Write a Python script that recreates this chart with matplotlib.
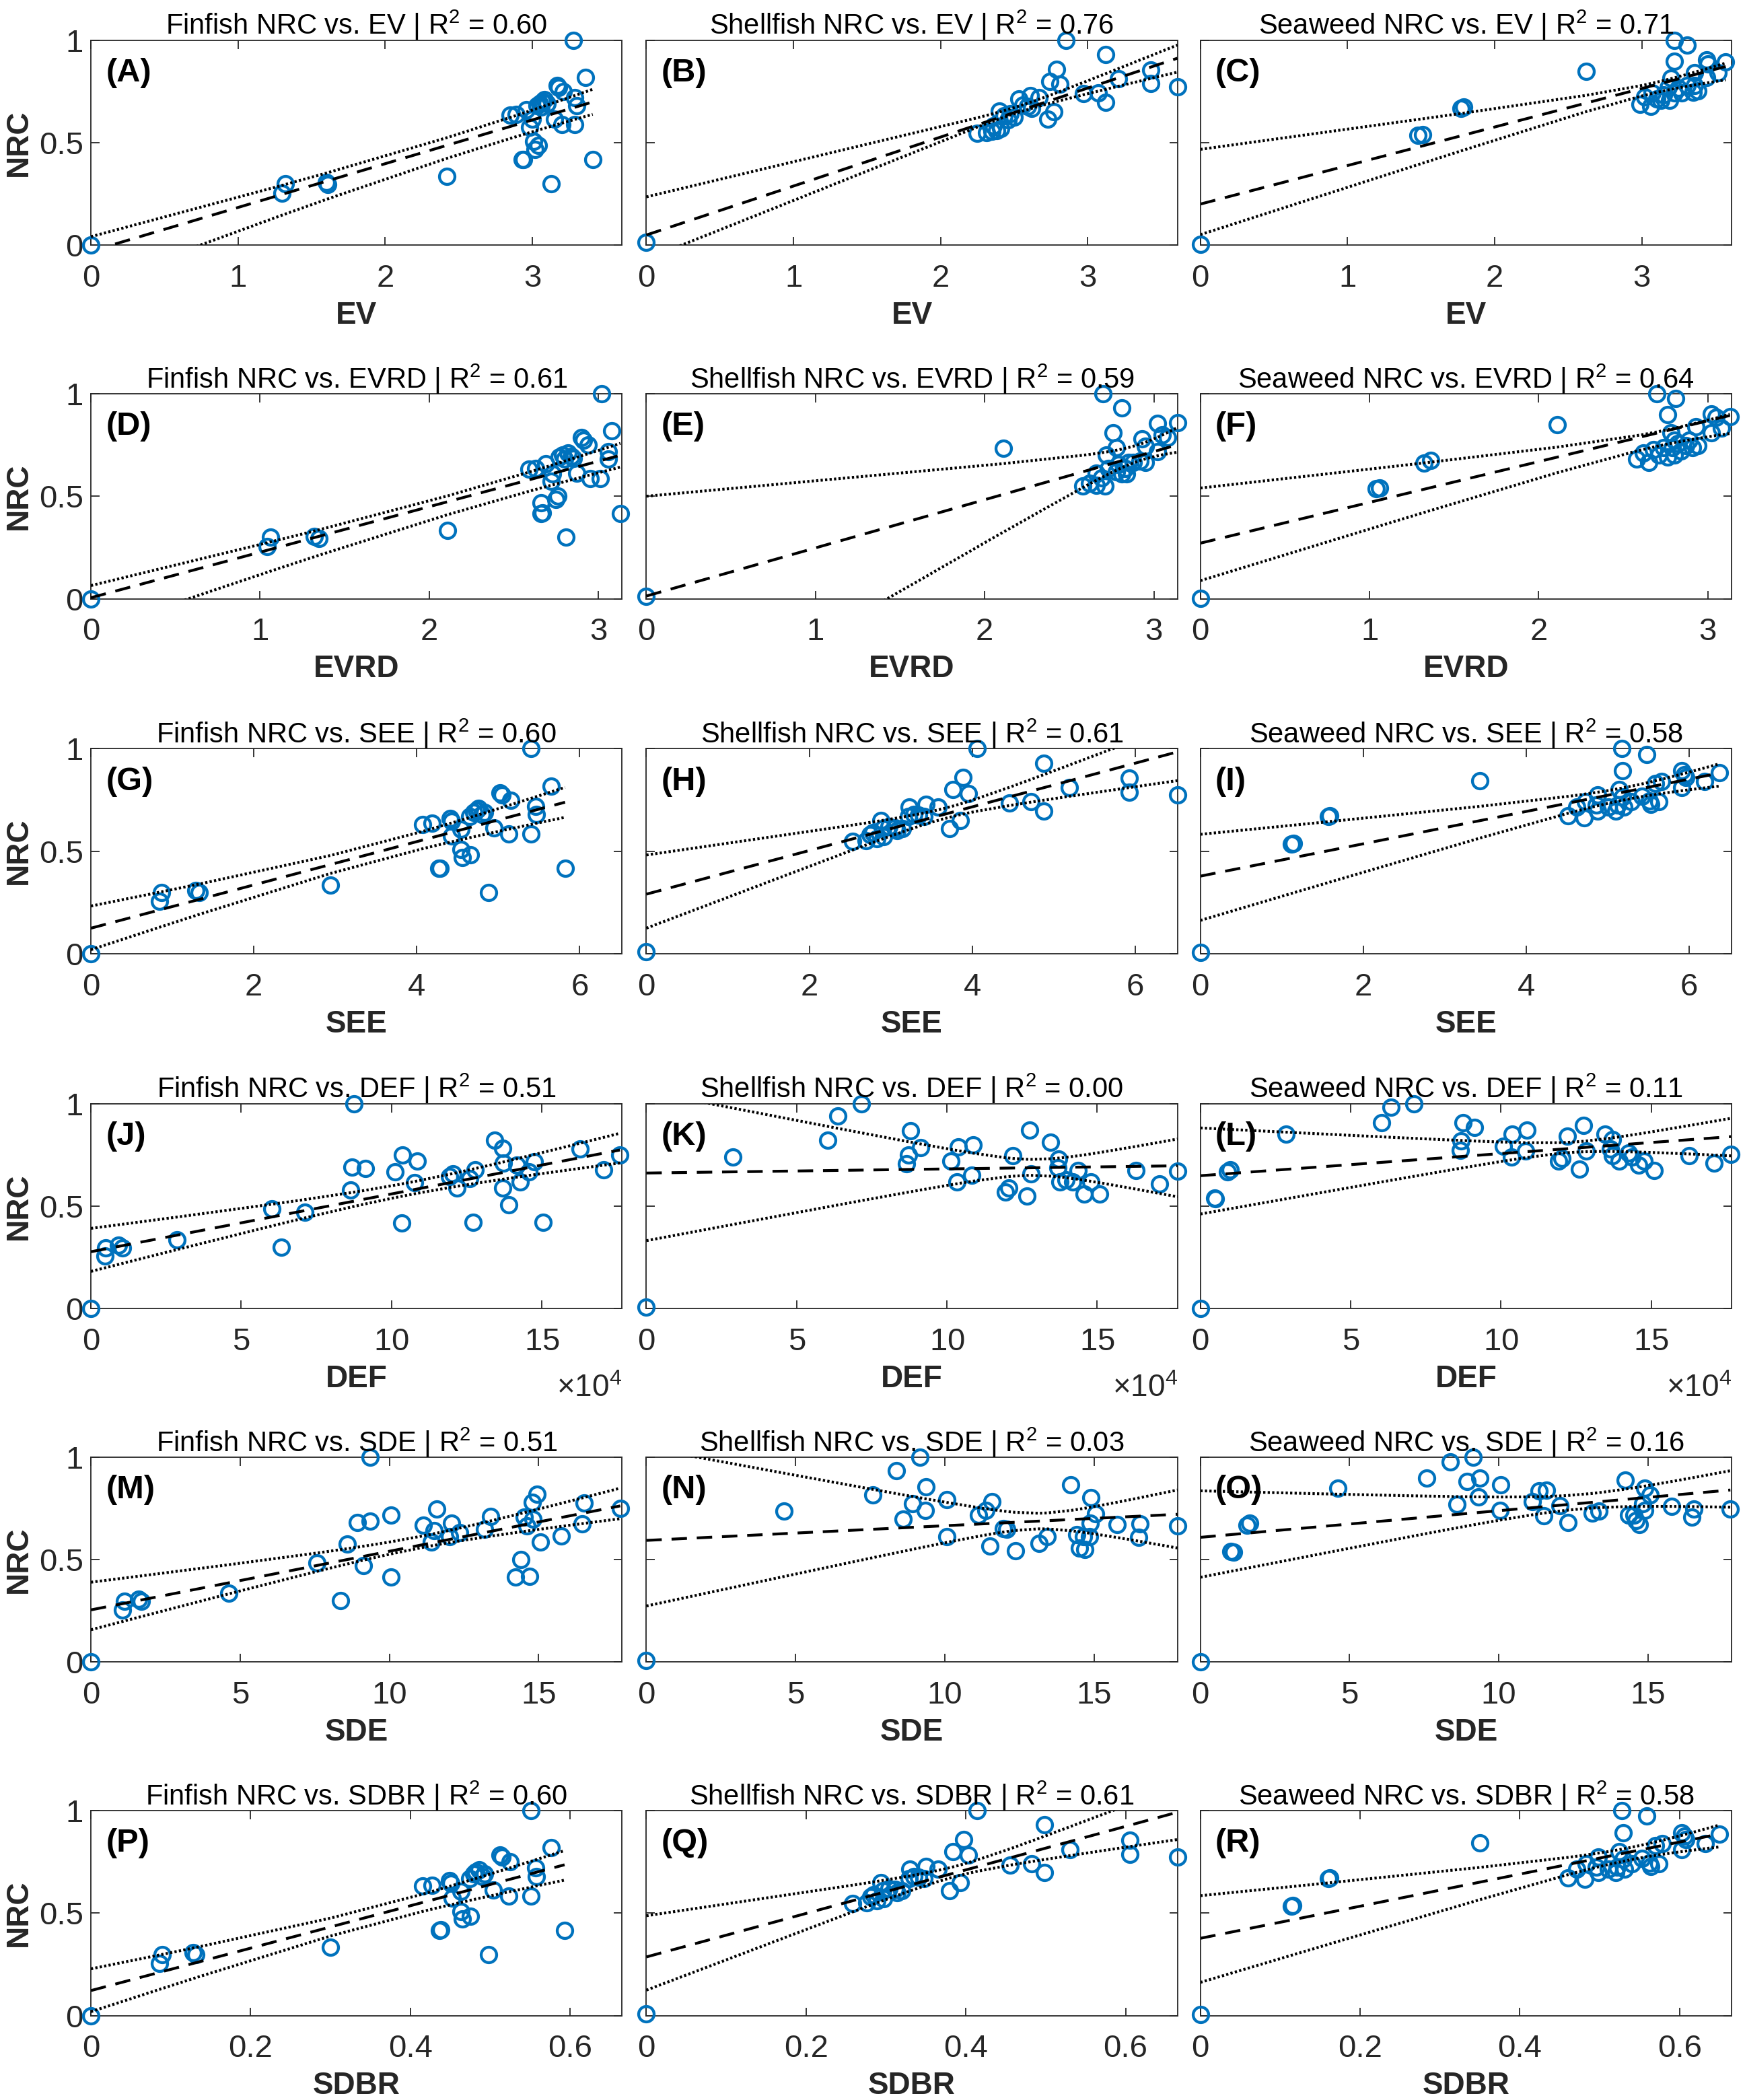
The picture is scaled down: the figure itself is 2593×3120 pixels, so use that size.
import numpy as np
import matplotlib
matplotlib.use('Agg')
import matplotlib.pyplot as plt
from matplotlib.ticker import ScalarFormatter, FuncFormatter

plt.rcParams['font.family'] = ['Liberation Sans', 'DejaVu Sans']
plt.rcParams['mathtext.fontset'] = 'custom'
plt.rcParams['mathtext.rm'] = 'Liberation Sans'
plt.rcParams['mathtext.it'] = 'Liberation Sans:italic'
plt.rcParams['mathtext.bf'] = 'Liberation Sans:bold'

# ---------------- data ----------------
# EV
ev_fin = [0, 1.30, 1.32, 1.60, 1.61, 2.42, 2.93, 2.94, 3.41, 3.13, 3.01, 3.04, 3.02, 2.98, 3.00, 2.85, 2.89,
          2.96, 3.03, 3.05, 3.07, 3.08, 3.10, 3.06, 3.15, 3.20, 3.17, 3.18, 3.21, 3.29, 3.30, 3.29, 3.36, 3.28]
nrc_ev_fin = [0, 0.253, 0.298, 0.307, 0.295, 0.335, 0.416, 0.418, 0.418, 0.30, 0.507, 0.485, 0.467, 0.576, 0.613,
              0.635, 0.636, 0.662, 0.68, 0.69, 0.70, 0.71, 0.69, 0.675, 0.613, 0.589, 0.78, 0.77, 0.75, 0.72, 0.68,
              0.589, 0.818, 1.0]
ev_shell = [0, 2.25, 2.31, 2.35, 2.38, 2.41, 2.36, 2.40, 2.43, 2.46, 2.50, 2.47, 2.53, 2.56, 2.59, 2.61, 2.62,
            2.67, 2.73, 2.77, 2.74, 2.79, 2.81, 2.85, 2.97, 3.07, 3.12, 3.12, 3.21, 3.43, 3.43, 3.61]
nrc_ev_shell = [0.015, 0.545, 0.55, 0.555, 0.56, 0.57, 0.58, 0.653, 0.63, 0.61, 0.625, 0.64, 0.713, 0.685, 0.676,
                0.73, 0.667, 0.72, 0.616, 0.65, 0.798, 0.858, 0.785, 1.0, 0.74, 0.744, 0.698, 0.93, 0.813, 0.855,
                0.79, 0.773]
ev_sea = [0, 1.48, 1.51, 1.77, 1.79, 2.62, 3.22, 3.31, 3.22, 3.44, 3.45, 3.57, 3.52, 3.44, 3.36, 2.99, 3.02,
          3.06, 3.07, 3.10, 3.13, 3.15, 3.18, 3.19, 3.20, 3.22, 3.25, 3.27, 3.31, 3.35, 3.36, 3.38]
nrc_ev_sea = [0.005, 0.537, 0.54, 0.668, 0.674, 0.848, 1.0, 0.976, 0.897, 0.903, 0.885, 0.892, 0.842, 0.818,
              0.842, 0.687, 0.723, 0.678, 0.742, 0.714, 0.705, 0.733, 0.769, 0.705, 0.815, 0.742, 0.764, 0.742,
              0.778, 0.745, 0.778, 0.751]

# EVRD
evrd_fin = [0, 1.04, 1.06, 1.32, 1.35, 2.11, 2.81, 2.66, 2.67, 3.13, 2.66, 2.75, 2.76, 2.72, 2.87, 2.95, 3.01,
            2.59, 2.63, 2.69, 2.73, 2.77, 2.79, 2.80, 2.82, 2.84, 2.85, 2.90, 2.91, 2.94, 3.06, 3.06, 3.08, 3.02]
nrc_evrd_fin = [0, 0.255, 0.30, 0.305, 0.295, 0.333, 0.30, 0.416, 0.418, 0.416, 0.467, 0.485, 0.50, 0.573, 0.613,
                0.585, 0.585, 0.633, 0.636, 0.66, 0.609, 0.69, 0.70, 0.68, 0.71, 0.695, 0.685, 0.787, 0.773, 0.75,
                0.718, 0.682, 0.818, 1.0]
evrd_shell = [0, 2.11, 2.70, 2.81, 2.76, 3.02, 3.14, 3.05, 3.08, 2.93, 2.78, 2.72, 3.02, 2.95, 2.58, 2.62, 2.66,
              2.71, 2.66, 2.69, 2.73, 2.78, 2.79, 2.81, 2.83, 2.84, 2.88, 2.92, 2.95, 2.85]
nrc_evrd_shell = [0.013, 0.733, 1.0, 0.93, 0.81, 0.855, 0.858, 0.80, 0.787, 0.78, 0.736, 0.70, 0.718, 0.745,
                  0.551, 0.564, 0.555, 0.551, 0.613, 0.59, 0.636, 0.618, 0.655, 0.609, 0.636, 0.609, 0.664, 0.673,
                  0.664, 0.664]
evrd_sea = [0, 1.04, 1.06, 1.32, 1.36, 2.11, 2.70, 2.81, 2.76, 3.02, 3.05, 3.13, 3.08, 3.02, 2.93, 2.94, 2.91,
            2.58, 2.62, 2.65, 2.68, 2.71, 2.74, 2.76, 2.78, 2.79, 2.80, 2.82, 2.84, 2.87, 2.89, 2.80]
nrc_evrd_sea = [0.002, 0.537, 0.54, 0.661, 0.674, 0.848, 1.0, 0.976, 0.897, 0.903, 0.885, 0.888, 0.833, 0.811,
                0.839, 0.747, 0.738, 0.68, 0.711, 0.665, 0.729, 0.701, 0.738, 0.692, 0.811, 0.738, 0.701, 0.756,
                0.72, 0.747, 0.775, 0.775]

# SEE
see_fin = [0, 0.84, 0.87, 1.29, 1.33, 2.94, 4.27, 4.29, 5.82, 4.88, 4.54, 4.56, 4.66, 4.07, 4.19, 4.41, 4.43,
           4.43, 4.54, 4.65, 4.70, 4.73, 4.76, 4.80, 4.83, 4.95, 5.02, 5.05, 5.15, 5.13, 5.40, 5.46, 5.47, 5.65, 5.40]
nrc_see_fin = [0, 0.255, 0.298, 0.308, 0.298, 0.333, 0.416, 0.418, 0.416, 0.298, 0.508, 0.47, 0.483, 0.631,
               0.635, 0.66, 0.646, 0.574, 0.606, 0.67, 0.69, 0.70, 0.71, 0.68, 0.69, 0.612, 0.783, 0.774, 0.749,
               0.584, 0.584, 0.72, 0.679, 0.818, 1.0]
see_shell = [0, 2.53, 2.70, 2.75, 2.83, 2.91, 2.78, 2.88, 2.90, 2.98, 3.05, 3.14, 3.08, 3.23, 3.22, 3.28, 3.34,
             3.41, 3.43, 3.58, 3.72, 3.85, 3.76, 3.89, 3.95, 4.06, 4.46, 4.72, 4.88, 4.88, 5.19, 5.93, 5.93, 6.52]
nrc_see_shell = [0.01, 0.548, 0.55, 0.58, 0.56, 0.57, 0.59, 0.649, 0.61, 0.62, 0.615, 0.61, 0.60, 0.716, 0.67,
                 0.68, 0.675, 0.67, 0.729, 0.716, 0.61, 0.649, 0.80, 0.859, 0.782, 1.0, 0.735, 0.74, 0.697, 0.93,
                 0.811, 0.855, 0.786, 0.773]
see_sea = [0, 1.12, 1.14, 1.57, 1.59, 3.43, 5.17, 5.48, 5.18, 5.91, 5.94, 6.37, 6.19, 5.91, 5.96, 5.66, 5.59,
           4.51, 4.62, 4.71, 4.73, 4.86, 4.88, 4.88, 5.01, 5.10, 5.12, 5.14, 5.18, 5.20, 5.29, 5.42, 5.51, 5.53, 5.63]
nrc_see_sea = [0.006, 0.534, 0.537, 0.668, 0.672, 0.844, 1.0, 0.973, 0.893, 0.893, 0.874, 0.884, 0.84, 0.811,
               0.86, 0.84, 0.83, 0.672, 0.716, 0.664, 0.74, 0.725, 0.697, 0.773, 0.716, 0.697, 0.725, 0.80, 0.763,
               0.716, 0.74, 0.767, 0.744, 0.729, 0.74]

# DEF (x 1e4)
def_fin = np.array([0, 0.47, 0.50, 0.92, 1.06, 2.87, 6.34, 6.02, 7.12, 10.33, 12.72, 15.05, 13.9, 8.64, 12.18,
                    13.7, 10.77, 14.29, 11.92, 12.04, 12.6, 14.58, 17.06, 10.12, 12.78, 14.17, 13.72, 14.76, 8.68,
                    9.13, 10.36, 10.86, 17.6, 16.27, 13.42, 13.7, 8.76]) * 1e4
nrc_def_fin = [0, 0.258, 0.296, 0.309, 0.296, 0.334, 0.30, 0.485, 0.471, 0.416, 0.42, 0.42, 0.505, 0.578, 0.588,
               0.588, 0.614, 0.616, 0.645, 0.658, 0.635, 0.668, 0.677, 0.668, 0.677, 0.70, 0.71, 0.715, 0.69,
               0.683, 0.75, 0.72, 0.75, 0.778, 0.82, 0.782, 1.0]
def_shell = np.array([0, 2.87, 6.03, 6.36, 7.15, 8.78, 8.71, 8.65, 9.13, 10.14, 10.38, 10.87, 10.82, 10.34, 12.2,
                      11.94, 12.06, 12.65, 12.74, 12.79, 13.45, 13.71, 13.69, 13.75, 13.95, 14.18, 14.36, 14.78,
                      14.56, 15.07, 16.29, 17.08, 17.67]) * 1e4
nrc_def_shell = [0.006, 0.739, 0.821, 0.94, 1.0, 0.866, 0.749, 0.706, 0.784, 0.72, 0.788, 0.798, 0.652, 0.617,
                 0.745, 0.568, 0.589, 0.549, 0.87, 0.656, 0.811, 0.73, 0.687, 0.617, 0.628, 0.617, 0.675, 0.617,
                 0.558, 0.558, 0.675, 0.609, 0.671]
def_sea = np.array([0, 0.47, 0.50, 0.91, 1.0, 2.86, 6.03, 6.34, 7.11, 8.74, 9.12, 8.68, 8.65, 10.08, 10.36, 10.86,
                    10.34, 10.83, 11.91, 12.03, 12.2, 12.61, 12.75, 12.84, 13.46, 13.71, 13.65, 13.71, 13.94, 14.24,
                    14.35, 14.59, 14.76, 15.09, 16.27, 17.09, 17.65]) * 1e4
nrc_def_sea = [0, 0.539, 0.536, 0.667, 0.677, 0.852, 0.905, 0.982, 1.0, 0.905, 0.885, 0.817, 0.772, 0.792, 0.85,
               0.87, 0.739, 0.768, 0.72, 0.733, 0.842, 0.681, 0.895, 0.768, 0.85, 0.823, 0.778, 0.745, 0.72, 0.759,
               0.739, 0.70, 0.72, 0.675, 0.745, 0.71, 0.753]

# SDE
sde_fin = [0, 1.05, 1.13, 1.6, 1.69, 4.62, 8.37, 7.58, 9.13, 10.06, 14.23, 14.7, 14.4, 8.6, 15.06, 15.75, 11.4,
           12.02, 12.36, 11.13, 11.49, 12.08, 13.18, 13.39, 14.52, 14.61, 14.82, 16.45, 17.74, 8.93, 9.35, 10.06,
           11.58, 16.52, 14.8, 14.94, 9.35]
nrc_sde_fin = [0, 0.255, 0.297, 0.307, 0.297, 0.335, 0.301, 0.483, 0.47, 0.414, 0.414, 0.418, 0.502, 0.576,
               0.585, 0.617, 0.585, 0.613, 0.632, 0.669, 0.641, 0.678, 0.65, 0.712, 0.706, 0.664, 0.697, 0.675,
               0.749, 0.682, 0.688, 0.719, 0.747, 0.777, 0.781, 0.818, 1.0]
sde_shell = [0, 4.62, 7.58, 8.39, 9.17, 8.6, 8.93, 9.37, 9.35, 10.06, 10.08, 11.13, 11.37, 11.58, 11.52, 11.96,
             12.08, 12.36, 13.15, 13.43, 14.23, 14.43, 14.64, 14.86, 14.52, 14.7, 14.88, 15.06, 14.9, 15.77, 16.49,
             16.55, 17.8]
nrc_sde_shell = [0.009, 0.736, 0.817, 0.934, 1.0, 0.698, 0.774, 0.855, 0.74, 0.792, 0.613, 0.717, 0.74, 0.783,
                 0.566, 0.651, 0.647, 0.543, 0.581, 0.613, 0.864, 0.623, 0.613, 0.613, 0.557, 0.551, 0.679, 0.723,
                 0.802, 0.67, 0.608, 0.674, 0.666]
sde_sea = [0, 1.03, 1.12, 1.56, 1.65, 4.61, 7.58, 8.37, 9.13, 8.6, 8.93, 9.37, 9.33, 10.07, 10.05, 11.13, 11.36,
           11.6, 11.51, 12.04, 12.33, 13.12, 13.36, 14.24, 14.36, 14.53, 14.59, 14.71, 14.88, 15.06, 14.82, 14.88,
           15.79, 16.53, 16.47, 17.76]
nrc_sde_sea = [0, 0.54, 0.536, 0.667, 0.677, 0.85, 0.897, 0.977, 1.0, 0.769, 0.882, 0.897, 0.806, 0.865, 0.741,
               0.784, 0.837, 0.84, 0.714, 0.765, 0.68, 0.727, 0.737, 0.887, 0.718, 0.718, 0.69, 0.671, 0.85, 0.816,
               0.774, 0.741, 0.761, 0.746, 0.709, 0.746]

# SDBR (same sites as SEE, same NRC)
sdbr_fin = [0, 0.0855, 0.089, 0.128, 0.131, 0.30, 0.436, 0.438, 0.593, 0.498, 0.463, 0.465, 0.475, 0.415, 0.427,
            0.449, 0.451, 0.452, 0.463, 0.474, 0.479, 0.482, 0.486, 0.490, 0.493, 0.504, 0.512, 0.515, 0.525,
            0.523, 0.551, 0.557, 0.558, 0.576, 0.551]
sdbr_shell = [0, 0.258, 0.276, 0.281, 0.289, 0.297, 0.284, 0.294, 0.296, 0.304, 0.311, 0.320, 0.314, 0.330,
              0.329, 0.335, 0.341, 0.348, 0.350, 0.365, 0.380, 0.393, 0.384, 0.397, 0.403, 0.414, 0.455, 0.482,
              0.498, 0.498, 0.530, 0.605, 0.605, 0.665]
sdbr_sea = [0, 0.114, 0.116, 0.160, 0.162, 0.350, 0.528, 0.559, 0.529, 0.603, 0.606, 0.650, 0.632, 0.603, 0.608,
            0.578, 0.570, 0.460, 0.471, 0.481, 0.483, 0.496, 0.498, 0.498, 0.511, 0.520, 0.522, 0.524, 0.529,
            0.531, 0.540, 0.553, 0.562, 0.564, 0.574]
nrc_sdbr_fin = nrc_see_fin
nrc_sdbr_shell = nrc_see_shell
nrc_sdbr_sea = nrc_see_sea

species = ['Finfish', 'Shellfish', 'Seaweed']
variables = ['EV', 'EVRD', 'SEE', 'DEF', 'SDE', 'SDBR']
letters = list('ABCDEFGHIJKLMNOPQR')
r2 = [0.60, 0.76, 0.71, 0.61, 0.59, 0.64, 0.60, 0.61, 0.58,
      0.51, 0.00, 0.11, 0.51, 0.03, 0.16, 0.60, 0.61, 0.58]

# fitted line (intercept, slope) and 95% band read at x=0 / x=max, plus narrowest half-width
dash_b0 = [-0.030, 0.049, 0.20, 0.005, 0.013, 0.271, 0.124, 0.29, 0.378,
           0.277, 0.661, 0.648, 0.255, 0.594, 0.609, 0.122, 0.286, 0.377]
dash_b1 = [0.2135, 0.239, 0.188, 0.222, 0.235, 0.199, 0.1056, 0.1065, 0.0789,
           2.82e-6, 0.2e-6, 1.08e-6, 0.0286, 0.00716, 0.013, 1.035, 1.062, 0.783]
ci_up0 = [0.041, 0.235, 0.467, 0.064, 0.50, 0.54, 0.232, 0.481, 0.582,
          0.391, 1.06, 0.881, 0.39, 1.046, 0.836, 0.228, 0.487, 0.585]
ci_lo0 = [-0.195, -0.069, 0.051, -0.16, -0.675, 0.088, 0.019, 0.124, 0.162,
          0.181, 0.331, 0.461, 0.158, 0.274, 0.414, 0.019, 0.124, 0.162]
ci_up1 = [0.76, 0.976, 0.888, 0.758, 0.835, 0.90, 0.811, 1.12, 0.926,
          0.855, 0.827, 0.928, 0.849, 0.84, 0.934, 0.805, 1.12, 0.93]
ci_lo1 = [0.638, 0.844, 0.806, 0.642, 0.715, 0.806, 0.665, 0.844, 0.817,
          0.71, 0.545, 0.745, 0.70, 0.557, 0.756, 0.661, 0.859, 0.823]
ci_min = [0.05, 0.015, 0.025, 0.045, 0.04, 0.035, 0.04, 0.025, 0.03,
          0.03, 0.039, 0.025, 0.028, 0.038, 0.035, 0.04, 0.025, 0.03]

x_rows = [[ev_fin, ev_shell, ev_sea], [evrd_fin, evrd_shell, evrd_sea], [see_fin, see_shell, see_sea],
          [def_fin, def_shell, def_sea], [sde_fin, sde_shell, sde_sea], [sdbr_fin, sdbr_shell, sdbr_sea]]
y_rows = [[nrc_ev_fin, nrc_ev_shell, nrc_ev_sea], [nrc_evrd_fin, nrc_evrd_shell, nrc_evrd_sea],
          [nrc_see_fin, nrc_see_shell, nrc_see_sea], [nrc_def_fin, nrc_def_shell, nrc_def_sea],
          [nrc_sde_fin, nrc_sde_shell, nrc_sde_sea], [nrc_sdbr_fin, nrc_sdbr_shell, nrc_sdbr_sea]]
xticks = [[0, 1, 2, 3], [0, 1, 2, 3], [0, 2, 4, 6], [0, 5e4, 10e4, 15e4], [0, 5, 10, 15], [0, 0.2, 0.4, 0.6]]


def ci_band(xs, i, xe):
    # hyperbolic confidence band through the read values, evaluated at the data x's
    c0 = (ci_up0[i] + ci_lo0[i]) / 2
    c1 = ((ci_up1[i] + ci_lo1[i]) / 2 - c0) / xe
    w0 = (ci_up0[i] - ci_lo0[i]) / 2
    w1 = (ci_up1[i] - ci_lo1[i]) / 2
    a = ci_min[i]
    A = np.sqrt(max(w0 ** 2 - a ** 2, 1e-9))
    B = np.sqrt(max(w1 ** 2 - a ** 2, 1e-9))
    xm = xe * A / (A + B)
    k = A / xm
    w = np.sqrt(a ** 2 + (k * (xs - xm)) ** 2)
    c = c0 + c1 * xs
    return c + w, c - w


BLUE = '#0072BD'
GREY = '#262626'
lefts = [0.0521, 0.3704, 0.6879]
bottoms = [0.8833, 0.7149, 0.5459, 0.3769, 0.2085, 0.0402]
W, H = 0.3044, 0.0976

fig = plt.figure(figsize=(25.93, 31.2), dpi=100)

for r in range(6):
    xmax = max(np.max(np.asarray(v, float)) for v in x_rows[r])
    for c in range(3):
        i = r * 3 + c
        x = np.asarray(x_rows[r][c], float)
        y = np.asarray(y_rows[r][c], float)
        ax = fig.add_axes([lefts[c], bottoms[r], W, H])

        ax.plot(x, y, 'o', mfc='none', mec=BLUE, ms=16.5, mew=3.1, clip_on=False, zorder=3)

        xs = np.unique(x)
        ax.plot(xs, dash_b0[i] + dash_b1[i] * xs, color='k', lw=3.0, ls=(0, (5.5, 3.5)), zorder=4)
        up, lo = ci_band(xs, i, xs.max())
        ax.plot(xs, up, color='k', lw=3.0, ls=(0, (0.8, 0.8)), zorder=4)
        ax.plot(xs, lo, color='k', lw=3.0, ls=(0, (0.8, 0.8)), zorder=4)

        ax.set_xlim(0, xmax)
        ax.set_ylim(0, 1)
        ax.set_yticks([0, 0.5, 1])
        ax.set_yticklabels(['0', '0.5', '1'])
        ax.set_xticks(xticks[r])
        if r == 3:
            fmt = ScalarFormatter(useMathText=True)
            fmt.set_powerlimits((4, 4))
            ax.xaxis.set_major_formatter(fmt)
            ax.xaxis.get_offset_text().set_visible(False)
            ax.text(1.0, -0.39, r'$\times10^{4}$', transform=ax.transAxes, ha='right', va='center',
                    fontsize=33, color=GREY)
        else:
            ax.xaxis.set_major_formatter(FuncFormatter(lambda v, p: '%g' % v))

        ax.tick_params(direction='in', top=True, right=True, length=9, width=1.3,
                       labelsize=34, colors=GREY)
        ax.tick_params(axis='x', pad=20)
        ax.tick_params(axis='y', pad=8, labelleft=(c == 0))
        for s in ax.spines.values():
            s.set_color(GREY)
            s.set_linewidth(1.3)

        ax.set_title(f'{species[c]} NRC vs. {variables[r]} | R$^{{2}}$ = {r2[i]:.2f}',
                     fontsize=30, pad=6)
        ax.set_xlabel(variables[r], fontsize=33, fontweight='bold', color=GREY, labelpad=8)
        if c == 0:
            ax.set_ylabel('NRC', fontsize=33, fontweight='bold', color=GREY, labelpad=6)
        ax.text(0.028, 0.84, f'({letters[i]})', transform=ax.transAxes, fontsize=35,
                fontweight='bold', ha='left', va='center', zorder=5)

fig.savefig('out.png', dpi=100)
